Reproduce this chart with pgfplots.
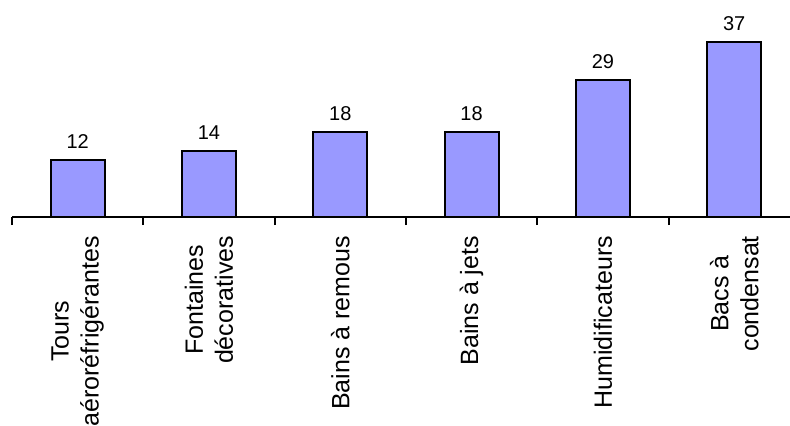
\documentclass[border=0pt]{standalone}
\usepackage{pgfplots}
\pgfplotsset{compat=1.18}
\usepackage{fontspec}
\setmainfont{Liberation Sans}
\definecolor{barblue}{HTML}{9999FF}
\begin{document}
\begin{tikzpicture}
\begin{axis}[
  at={(0,0)}, anchor=south west,
  width=389pt, height=108.5pt, scale only axis,
  xmin=-0.5, xmax=5.425, ymin=0, ymax=45.9,
  axis x line*=bottom, axis y line=none,
  axis line style={line width=1pt, -},
  xtick={0,...,5},
  xticklabels={{Tours\\aéroréfrigérantes},{Fontaines\\décoratives},{Bains à remous},{Bains à jets},{Humidificateurs},{Bacs à\\condensat}},
  major tick length=0pt,
  minor xtick={-0.5,0.5,1.5,2.5,3.5,4.5},
  minor tick length=4pt,
  tick align=outside,
  minor tick style={line width=1pt, black},
  xticklabel style={rotate=90, anchor=east, align=center, font=\fontsize{12.5}{15}\selectfont, xshift=-6pt},
  /pgf/number format/assume math mode=true,
  ybar, bar width=27pt,
  nodes near coords,
  nodes near coords style={font=\fontsize{10}{12}\selectfont, yshift=2pt},
  clip=false,
]
\addplot[draw=black, line width=1pt, fill=barblue] coordinates {(0,12) (1,14) (2,18) (3,18) (4,29) (5,37)};
\end{axis}
\pgfresetboundingbox
\path[use as bounding box] (-6pt,-104pt) rectangle (389pt,108.5pt);
\end{tikzpicture}
\end{document}
